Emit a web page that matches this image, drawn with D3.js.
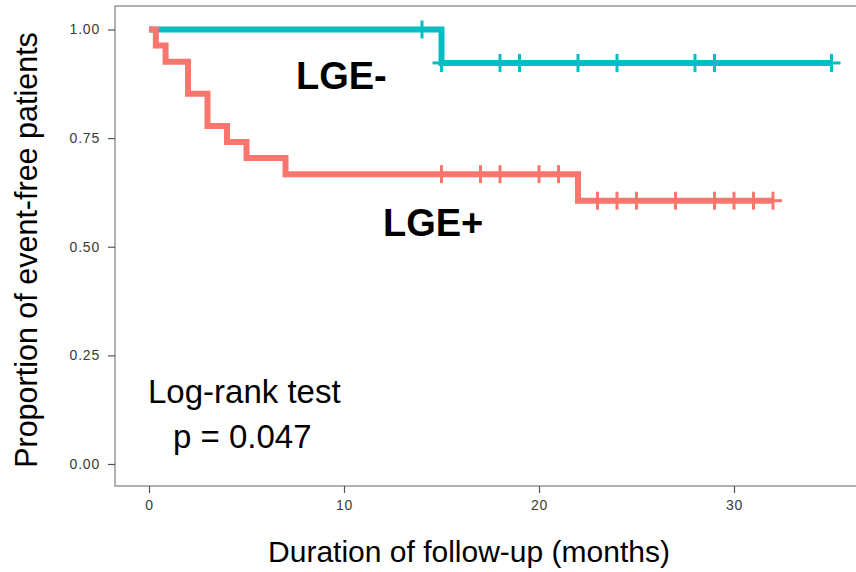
<!DOCTYPE html>
<html>
<head>
<meta charset="utf-8">
<script src="https://cdn.jsdelivr.net/npm/d3@7"></script>
<style>
  body { margin: 0; background: #fff; }
  svg { display: block; font-family: "Liberation Sans", Arial, Helvetica, sans-serif; }
</style>
</head>
<body>
<div id="chart"></div>
<script>
// Kaplan-Meier steps (months, proportion event-free)
const lgeNegTimes = [0, 15];
const lgeNegSurv = [1, 0.923];
const lgeNegEnd = 35;
const lgeNegCensor = [14, 15, 18, 19, 22, 24, 28, 29, 35];

const lgePosTimes = [0, 0.35, 0.85, 2, 3, 4, 5, 7, 22];
const lgePosSurv = [1, 0.963, 0.926, 0.852, 0.778, 0.741, 0.704, 0.667, 0.606];
const lgePosEnd = 32;
const lgePosCensor = [15, 17, 18, 20, 21, 23, 24, 25, 27, 29, 30, 31, 32];

const xTicks = [0, 10, 20, 30];
const yTicks = [0, 0.25, 0.5, 0.75, 1];

const width = 856, height = 572;
const panel = { left: 115, top: 6, right: 870, bottom: 486 };

const svg = d3.select("#chart").append("svg")
    .attr("width", width)
    .attr("height", height);

const x = d3.scaleLinear().domain([0, 30]).range([149, 734]);
const y = d3.scaleLinear().domain([0, 1]).range([464, 29.5]);

// panel border
svg.append("rect")
    .attr("x", panel.left)
    .attr("y", panel.top)
    .attr("width", panel.right - panel.left)
    .attr("height", panel.bottom - panel.top)
    .attr("fill", "none")
    .attr("stroke", "#888")
    .attr("stroke-width", 1.3);

// axes
const xAxis = svg.append("g")
    .attr("transform", `translate(0,${panel.bottom})`)
    .call(d3.axisBottom(x).tickValues(xTicks).tickSize(7).tickPadding(7).tickFormat(d3.format("d")));
const yAxis = svg.append("g")
    .attr("transform", `translate(${panel.left},0)`)
    .call(d3.axisLeft(y).tickValues(yTicks).tickSize(7).tickPadding(8).tickFormat(d3.format(".2f")));

[xAxis, yAxis].forEach(g => {
    g.select(".domain").remove();
    g.selectAll(".tick line").attr("stroke", "#555").attr("stroke-width", 1.2);
    g.selectAll(".tick text")
        .attr("fill", "#3a3a3a")
        .style("font-size", "14px")
        .style("letter-spacing", "0.8px")
        .style("font-family", "'Liberation Sans', Arial, sans-serif");
});

// survival value at time t
function survAt(times, surv, t) {
    let v = surv[0];
    times.forEach((tt, i) => { if (tt <= t) v = surv[i]; });
    return v;
}

function drawCurve(times, surv, end, censor, color) {
    const pts = times.map((t, i) => [t, surv[i]]);
    pts.push([end, surv[surv.length - 1]]);
    const line = d3.line()
        .x(d => x(d[0]))
        .y(d => y(d[1]))
        .curve(d3.curveStepAfter);
    svg.append("path")
        .attr("d", line(pts))
        .attr("fill", "none")
        .attr("stroke", color)
        .attr("stroke-width", 6)
        .attr("stroke-linejoin", "miter");

    // censor marks "+"
    const g = svg.append("g");
    censor.forEach(t => {
        const cx = x(t), cy = y(survAt(times, surv, t));
        g.append("line")
            .attr("x1", cx).attr("x2", cx)
            .attr("y1", cy - 9).attr("y2", cy + 9)
            .attr("stroke", color).attr("stroke-width", 3);
        g.append("line")
            .attr("x1", cx - 9).attr("x2", cx + 9)
            .attr("y1", cy).attr("y2", cy)
            .attr("stroke", color).attr("stroke-width", 3);
    });
}

drawCurve(lgeNegTimes, lgeNegSurv, lgeNegEnd, lgeNegCensor, "#00BFC4");
drawCurve(lgePosTimes, lgePosSurv, lgePosEnd, lgePosCensor, "#F8766D");

// group labels
svg.append("text")
    .attr("x", 296).attr("y", 89)
    .style("font-size", "38px").style("font-weight", "bold")
    .text("LGE-");
svg.append("text")
    .attr("x", 383).attr("y", 236)
    .style("font-size", "38px").style("font-weight", "bold")
    .text("LGE+");

// log-rank annotation
svg.append("text")
    .attr("x", 148).attr("y", 403)
    .style("font-size", "33px")
    .text("Log-rank test");
svg.append("text")
    .attr("x", 173).attr("y", 448)
    .style("font-size", "33px")
    .text("p = 0.047");

// axis titles
svg.append("text")
    .attr("x", 469).attr("y", 562)
    .attr("text-anchor", "middle")
    .style("font-size", "30px")
    .text("Duration of follow-up (months)");
svg.append("text")
    .attr("transform", "translate(37,250) rotate(-90)")
    .attr("text-anchor", "middle")
    .style("font-size", "30.5px")
    .text("Proportion of event-free patients");
</script>
</body>
</html>
